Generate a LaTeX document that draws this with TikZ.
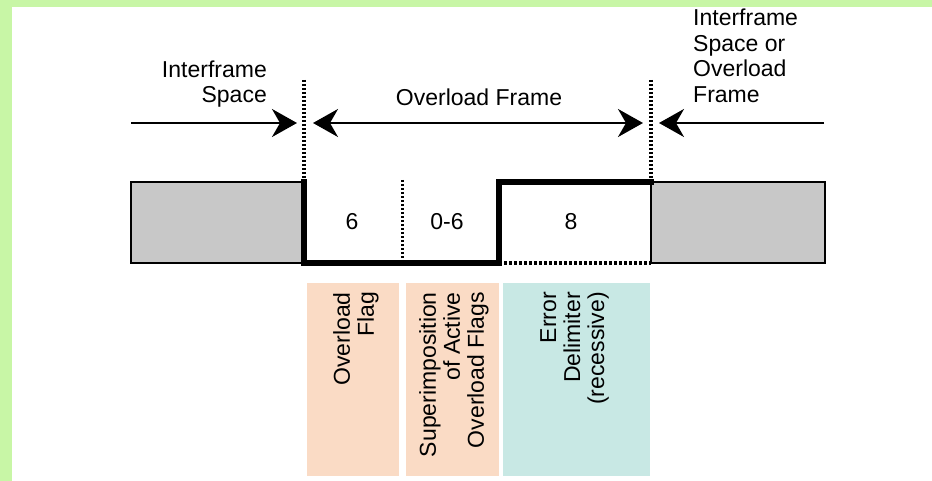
\documentclass[tikz,border=0pt]{standalone}
\usepackage{fontspec}
\setmainfont{Liberation Sans}
\usetikzlibrary{arrows.meta}
\definecolor{greenframe}{RGB}{200,246,166}
\definecolor{peachband}{RGB}{250,219,197}
\definecolor{tealband}{RGB}{200,232,228}
\definecolor{boxgray}{RGB}{200,200,200}
\tikzset{bighead/.tip={Stealth[length=25pt,width=28pt,inset=8pt]}}
\begin{document}
\begin{tikzpicture}[x=1pt,y=-1pt,
  txt/.style={font=\fontsize{23}{25}\selectfont, inner sep=0pt},
  rottxt/.style={font=\fontsize{23}{24}\selectfont, inner sep=0pt, rotate=90, align=right, anchor=north east},
  arr/.style={line width=2.2pt, -{bighead}},
  darr/.style={line width=2.2pt, {bighead}-{bighead}},
  graybox/.style={draw, fill=boxgray, line width=1.8pt},
  sig/.style={line width=5.5pt, line join=miter, line cap=rect},
  vdots/.style={line width=3.5pt, dash pattern=on 2.5pt off 1.5pt}
]
\useasboundingbox (0,0) rectangle (932,481);
% green frame
\fill[greenframe] (0,0) rectangle (12,481);
\fill[greenframe] (0,0) rectangle (932,7);

% coloured bands
\fill[peachband] (307,283) rectangle (399,476);
\fill[peachband] (406,283) rectangle (499,476);
\fill[tealband] (503,283) rectangle (650,476);

\node[rottxt] (flagtxt) at (333,292) {Overload\\Flag};
\node[rottxt] (suptxt) at (419,292) {Superimposition\\of Active\\Overload Flags};
\node[rottxt] (errtxt) at (540,292) {Error\\Delimiter\\(recessive)};

% gray boxes
\draw[graybox] (131,182) rectangle (304,263);
\draw[graybox] (651,182) rectangle (825,263);

% named points of the signal
\coordinate (s1) at (304,182);
\coordinate (s2) at (304,263);
\coordinate (s3) at (499,263);
\coordinate (s4) at (499,182);
\coordinate (s5) at (651,182);
\coordinate (s6) at (651,263);
\draw[sig] (s1) -- (s2) -- (s3) -- (s4) -- (s5);
\draw[line width=3.5pt, dash pattern=on 3pt off 2pt] (s3) -- (s6);

% dotted separators
\coordinate (d1a) at (304,80);
\coordinate (d2a) at (651,80);
\coordinate (d3a) at (402,180);
\coordinate (d3b) at (402,263);
\draw[vdots] (d1a) -- (s1);
\draw[vdots] (d2a) -- (s5);
\draw[line width=3pt, dash pattern=on 2.5pt off 1.5pt] (d3a) -- (d3b);

% bit counts
\node[txt] (n6) at (352,222) {6};
\node[txt] (n06) at (447,222) {0-6};
\node[txt] (n8) at (571,222) {8};

% top labels
\node[txt, anchor=north east, align=right] (lis) at (267,61) {Interframe\\Space};
\node[txt, anchor=base] (olf) at (479,106) {Overload Frame};
\node[txt, anchor=north west, align=left, font=\fontsize{23}{25.5}\selectfont] (ris) at (693,9) {Interframe\\Space or\\Overload\\Frame};

% arrows
\coordinate (a1s) at (131,123);
\coordinate (a1e) at (297,123);
\coordinate (a2s) at (313,123);
\coordinate (a2e) at (643,123);
\coordinate (a3s) at (824,123);
\coordinate (a3e) at (659,123);
\draw[arr] (a1s) -- (a1e);
\draw[darr] (a2s) -- (a2e);
\draw[arr] (a3s) -- (a3e);
\end{tikzpicture}
\end{document}
